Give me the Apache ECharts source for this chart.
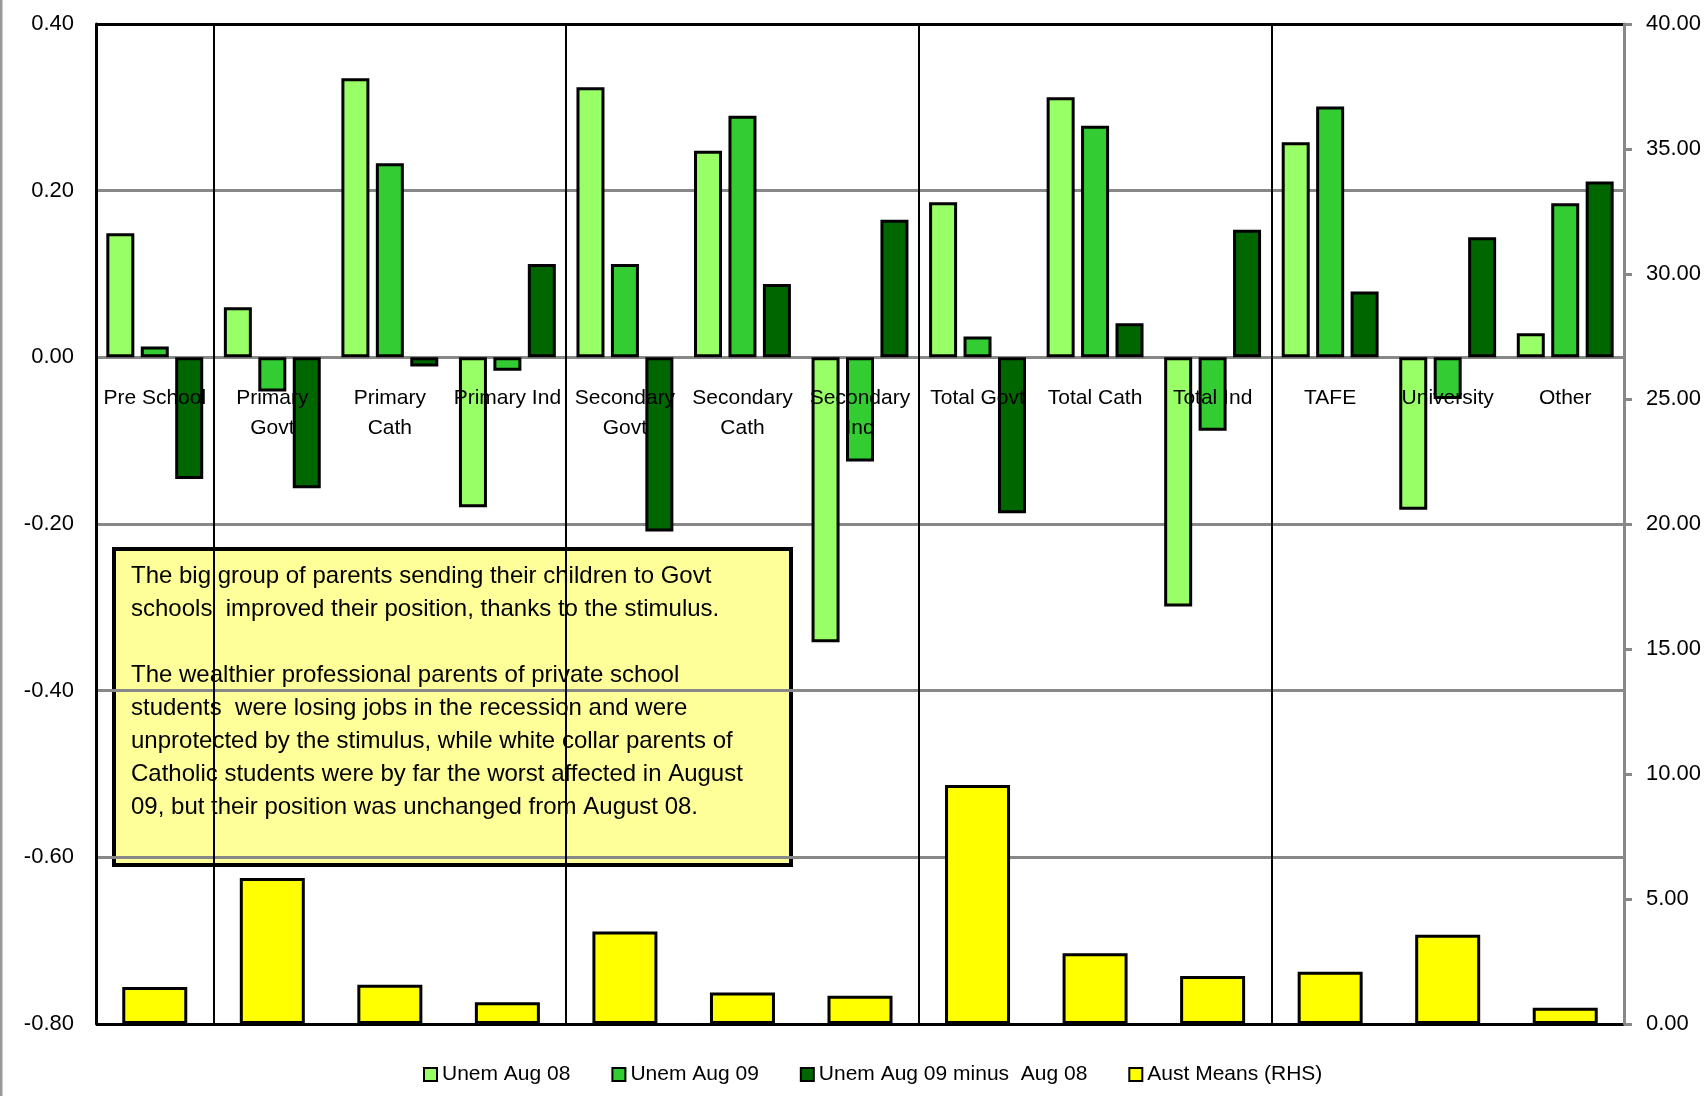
<!DOCTYPE html>
<html>
<head>
<meta charset="utf-8">
<title>Unemployment by school type of children</title>
<script src="https://cdn.jsdelivr.net/npm/echarts@6/dist/echarts.min.js"></script>
<style>
    html, body { margin: 0; padding: 0; background: #fff; }
    #chart { width: 1708px; height: 1096px; }
</style>
</head>
<body>
<div id="chart"></div>
<script>
'use strict';

// categories (school type of the children)
let categories = ['Pre School', 'Primary\nGovt', 'Primary\nCath', 'Primary Ind', 'Secondary\nGovt',
    'Secondary\nCath', 'Secondary\nInd', 'Total Govt', 'Total Cath', 'Total Ind', 'TAFE', 'University', 'Other'];

// left axis series
let unemAug08 = [0.149, 0.060, 0.335, -0.180, 0.324, 0.248, -0.342, 0.186, 0.312, -0.299, 0.258, -0.183, 0.029];
let unemAug09 = [0.013, -0.041, 0.233, -0.016, 0.112, 0.290, -0.125, 0.025, 0.278, -0.088, 0.301, -0.050, 0.185];
let unemDiff = [-0.146, -0.157, -0.011, 0.112, -0.209, 0.088, 0.165, -0.187, 0.041, 0.153, 0.079, 0.144, 0.211];

// right axis series
let austMeans = [1.48, 5.84, 1.57, 0.87, 3.70, 1.26, 1.13, 9.56, 2.83, 1.92, 2.09, 3.57, 0.65];

// category index where a group separator line is drawn (left edge)
let separators = [1, 4, 7, 10];

let seriesNames = ['Unem Aug 08', 'Unem Aug 09', 'Unem Aug 09 minus  Aug 08', 'Aust Means (RHS)'];

let noteText = [
    'The big group of parents sending their children to Govt',
    'schools  improved their position, thanks to the stimulus.',
    '',
    'The wealthier professional parents of private school',
    'students  were losing jobs in the recession and were',
    'unprotected by the stimulus, while white collar parents of',
    'Catholic students were by far the worst affected in August',
    '09, but their position was unchanged from August 08.'
].join('\n');

let font = '"Liberation Sans", Arial, sans-serif';

let myChart = echarts.init(document.getElementById('chart'), null, { renderer: 'canvas' });

let greenBar = function (name, data, colour) {
    return {
        name: name,
        type: 'bar',
        xAxisIndex: 0,
        yAxisIndex: 0,
        data: data,
        barWidth: 28,
        barGap: '23%',
        itemStyle: { color: colour, borderColor: '#000', borderWidth: 3 },
        emphasis: { disabled: true }
    };
};

let option = {
    animation: false,
    backgroundColor: '#fff',
    grid: {
        left: 96,
        right: 84,
        top: 24,
        bottom: 72,
        show: false,
        containLabel: false,
        outerBoundsMode: 'none'
    },
    legend: {
        data: seriesNames,
        left: 423,
        top: 1064,
        padding: 0,
        itemGap: 41,
        itemWidth: 13,
        itemHeight: 13,
        icon: 'rect',
        itemStyle: { borderColor: '#000', borderWidth: 2 },
        textStyle: { fontFamily: font, fontSize: 21, color: '#000' }
    },
    xAxis: [{
        type: 'category',
        data: categories,
        position: 'bottom',
        // category labels sit just under the zero line, drawn over the bars
        offset: -667,
        z: 5,
        axisLine: { show: false, onZero: false },
        axisTick: { show: false },
        axisLabel: {
            interval: 0,
            margin: 26,
            fontFamily: font,
            fontSize: 21,
            lineHeight: 30,
            color: '#000'
        },
        splitLine: {
            show: true,
            showMinLine: true,
            showMaxLine: false,
            interval: function (index) {
                return separators.indexOf(index) >= 0;
            },
            lineStyle: { color: '#000', width: 2 }
        }
    }, {
        type: 'category',
        data: categories,
        position: 'bottom',
        show: false
    }],
    yAxis: [{
        type: 'value',
        position: 'left',
        min: -0.8,
        max: 0.4,
        interval: 0.2,
        axisLine: { show: true, lineStyle: { color: '#000', width: 3 } },
        axisTick: { show: false },
        axisLabel: {
            margin: 22,
            fontFamily: font,
            fontSize: 22,
            color: '#000',
            formatter: function (v) { return v.toFixed(2); }
        },
        // top and bottom lines form the black plot frame
        splitLine: {
            show: true,
            lineStyle: { color: ['#000', '#888', '#888', '#888', '#888', '#888', '#000'], width: 3 }
        }
    }, {
        type: 'value',
        position: 'right',
        min: 0,
        max: 40,
        interval: 5,
        axisLine: { show: true, lineStyle: { color: '#888', width: 3 } },
        axisTick: { show: true, length: 8, lineStyle: { color: '#888', width: 3 } },
        axisLabel: {
            margin: 22,
            fontFamily: font,
            fontSize: 22,
            color: '#000',
            formatter: function (v) { return v.toFixed(2); }
        },
        splitLine: { show: false }
    }],
    series: [
        greenBar(seriesNames[0], unemAug08, '#99FF66'),
        greenBar(seriesNames[1], unemAug09, '#33CC33'),
        greenBar(seriesNames[2], unemDiff, '#006600'),
        {
            name: seriesNames[3],
            type: 'bar',
            xAxisIndex: 1,
            yAxisIndex: 1,
            data: austMeans,
            barWidth: 65,
            itemStyle: { color: '#FFFF00', borderColor: '#000', borderWidth: 3 },
            emphasis: { disabled: true }
        }
    ],
    graphic: [{
        type: 'line',
        z: 100,
        shape: { x1: 1, y1: 0, x2: 1, y2: 1096 },
        style: { stroke: '#999', lineWidth: 3 }
    }, {
        type: 'group',
        left: 112,
        top: 547,
        z: 100,
        children: [{
            type: 'rect',
            shape: { x: 0, y: 0, width: 677, height: 316 },
            style: { fill: '#FFFF99', stroke: '#000', lineWidth: 4 }
        }, {
            type: 'text',
            x: 17,
            y: 11,
            style: {
                text: noteText,
                font: '24px ' + font,
                fill: '#000',
                lineHeight: 33
            }
        }]
    }]
};

myChart.setOption(option);
</script>
</body>
</html>
